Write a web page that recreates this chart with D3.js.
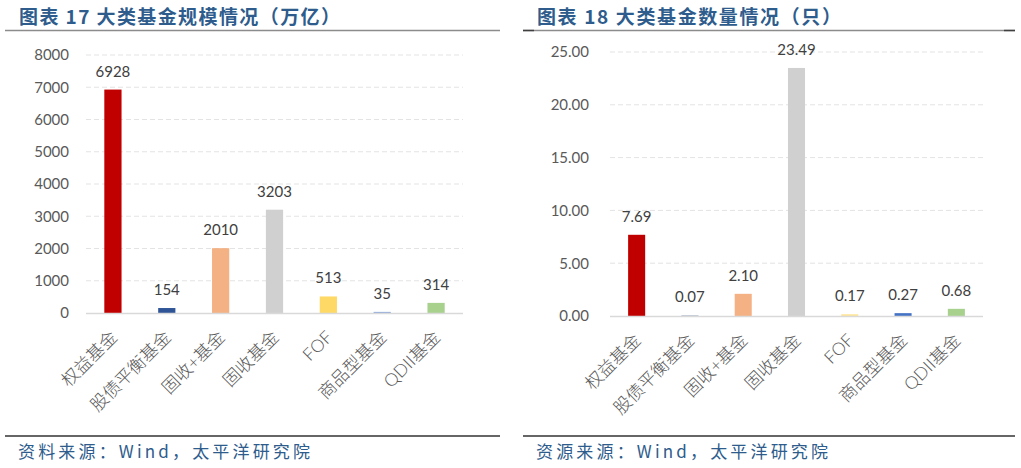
<!DOCTYPE html>
<html>
<head>
<meta charset="utf-8">
<script src="https://cdn.jsdelivr.net/npm/d3@7"></script>
<style>
  body { margin: 0; background: #fff; }
  svg { display: block; font-family: Lato, "Noto Sans CJK SC", sans-serif; }
</style>
</head>
<body>
<svg id="drawspace" width="1021" height="468"></svg>
<script>
// categories shared by both charts
const categories = ["权益基金", "股债平衡基金", "固收+基金", "固收基金", "FOF", "商品型基金", "QDII基金"];
// chart 17: scale (万亿 as labelled)
const scaleValues = [6928, 154, 2010, 3203, 513, 35, 314];
const scaleTicks = [0, 1000, 2000, 3000, 4000, 5000, 6000, 7000, 8000];
const scaleColors = ["#C00000", "#2F5597", "#F4B183", "#D0D0D0", "#FFD966", "#8FAADC", "#A9D18E"];
// chart 18: count
const countValues = [7.69, 0.07, 2.10, 23.49, 0.17, 0.27, 0.68];
const countTicks = [0, 5, 10, 15, 20, 25];
const countColors = ["#C00000", "#ADB9CA", "#F4B183", "#D0D0D0", "#FFE699", "#4472C4", "#A9D18E"];

const titleColor = "#2E5C8C";
let drawspace = d3.select("#drawspace");

function drawPanel(opt) {
  const g = drawspace.append("g");

  // title and rules
  g.append("text")
    .attr("x", opt.left + 14)
    .attr("y", 24)
    .attr("fill", titleColor)
    .attr("font-family", "'Noto Sans CJK SC'")
    .attr("font-weight", "bold")
    .attr("font-size", "19px")
    .attr("textLength", opt.titleLen)
    .attr("lengthAdjust", "spacing")
    .text(opt.title);

  g.append("line")
    .attr("x1", opt.left).attr("x2", opt.right)
    .attr("y1", 30.5).attr("y2", 30.5)
    .attr("stroke", "#8c8c8c").attr("stroke-width", 1.5);

  if (opt.endMarks) {
    [[opt.left, opt.left + 11], [opt.right - 11, opt.right]].forEach((p) => {
      g.append("line")
        .attr("x1", p[0]).attr("x2", p[1])
        .attr("y1", 30.5).attr("y2", 30.5)
        .attr("stroke", "#404040").attr("stroke-width", 1.5);
    });
  }

  g.append("line")
    .attr("x1", opt.left).attr("x2", opt.right)
    .attr("y1", 436).attr("y2", 436)
    .attr("stroke", "#333").attr("stroke-width", 1.5);

  g.append("text")
    .attr("x", opt.left + 13)
    .attr("y", 458)
    .attr("fill", titleColor)
    .attr("font-family", "'Noto Sans CJK SC'")
    .attr("font-size", "17px")
    .attr("textLength", 292)
    .attr("lengthAdjust", "spacing")
    .text(opt.source);

  const x = d3.scaleBand()
    .domain(categories)
    .range([opt.x0, opt.x1])
    .paddingInner(0.68)
    .paddingOuter(0.34);

  const y = d3.scaleLinear()
    .domain([0, d3.max(opt.ticks)])
    .range([opt.yBottom, opt.yTop]);

  // gridlines
  g.selectAll(".grid")
    .data(opt.ticks.filter((t) => t > 0))
    .enter()
    .append("line")
    .attr("x1", opt.x0).attr("x2", opt.x1)
    .attr("y1", (d) => y(d)).attr("y2", (d) => y(d))
    .attr("stroke", "#e3e3e3")
    .attr("stroke-dasharray", "5,3");

  // y axis labels
  const yAxis = g.append("g")
    .attr("transform", "translate(" + opt.yLabelX + ",0)")
    .call(d3.axisLeft(y).tickValues(opt.ticks).tickSize(0).tickPadding(0).tickFormat(opt.fmt));
  yAxis.select(".domain").remove();
  yAxis.selectAll("text")
    .attr("fill", "#595959")
    .attr("font-size", "15px")
    .attr("font-family", "Lato");

  // bars
  g.selectAll(".bar")
    .data(opt.values)
    .enter()
    .append("rect")
    .attr("x", (d, i) => x(categories[i]))
    .attr("y", (d) => y(d))
    .attr("width", x.bandwidth())
    .attr("height", (d) => opt.yBottom - y(d))
    .attr("fill", (d, i) => opt.colors[i]);

  // baseline
  g.append("line")
    .attr("x1", opt.x0).attr("x2", opt.x1)
    .attr("y1", opt.yBottom + 0.5).attr("y2", opt.yBottom + 0.5)
    .attr("stroke", "#d9d9d9").attr("stroke-width", 1.5);

  // value labels
  g.selectAll(".val")
    .data(opt.values)
    .enter()
    .append("text")
    .attr("x", (d, i) => x(categories[i]) + x.bandwidth() / 2)
    .attr("y", (d) => y(d) - 13)
    .attr("text-anchor", "middle")
    .attr("fill", "#404040")
    .attr("font-size", "15px")
    .text((d) => opt.fmt(d));

  // category labels
  g.selectAll(".cat")
    .data(categories)
    .enter()
    .append("text")
    .attr("transform", (d) =>
      "translate(" + (x(d) + x.bandwidth() / 2 + 1) + "," + (opt.yBottom + 21) + ") rotate(-45)")
    .attr("text-anchor", "end")
    .attr("dy", "0.35em")
    .attr("fill", "#595959")
    .attr("font-size", "17.5px")
    .attr("font-weight", 300)
    .text((d) => d);
}

drawPanel({
  left: 5, right: 500,
  title: "图表 17 大类基金规模情况（万亿）", titleLen: 321,
  source: "资料来源：Wind，太平洋研究院",
  x0: 86, x1: 463, yTop: 55, yBottom: 313, yLabelX: 69,
  ticks: scaleTicks, values: scaleValues, colors: scaleColors,
  fmt: d3.format("d")
});

drawPanel({
  left: 523, right: 1015, endMarks: true,
  title: "图表 18 大类基金数量情况（只）", titleLen: 304,
  source: "资源来源：Wind，太平洋研究院",
  x0: 610, x1: 983, yTop: 52, yBottom: 316, yLabelX: 589,
  ticks: countTicks, values: countValues, colors: countColors,
  fmt: d3.format(".2f")
});
</script>
</body>
</html>
